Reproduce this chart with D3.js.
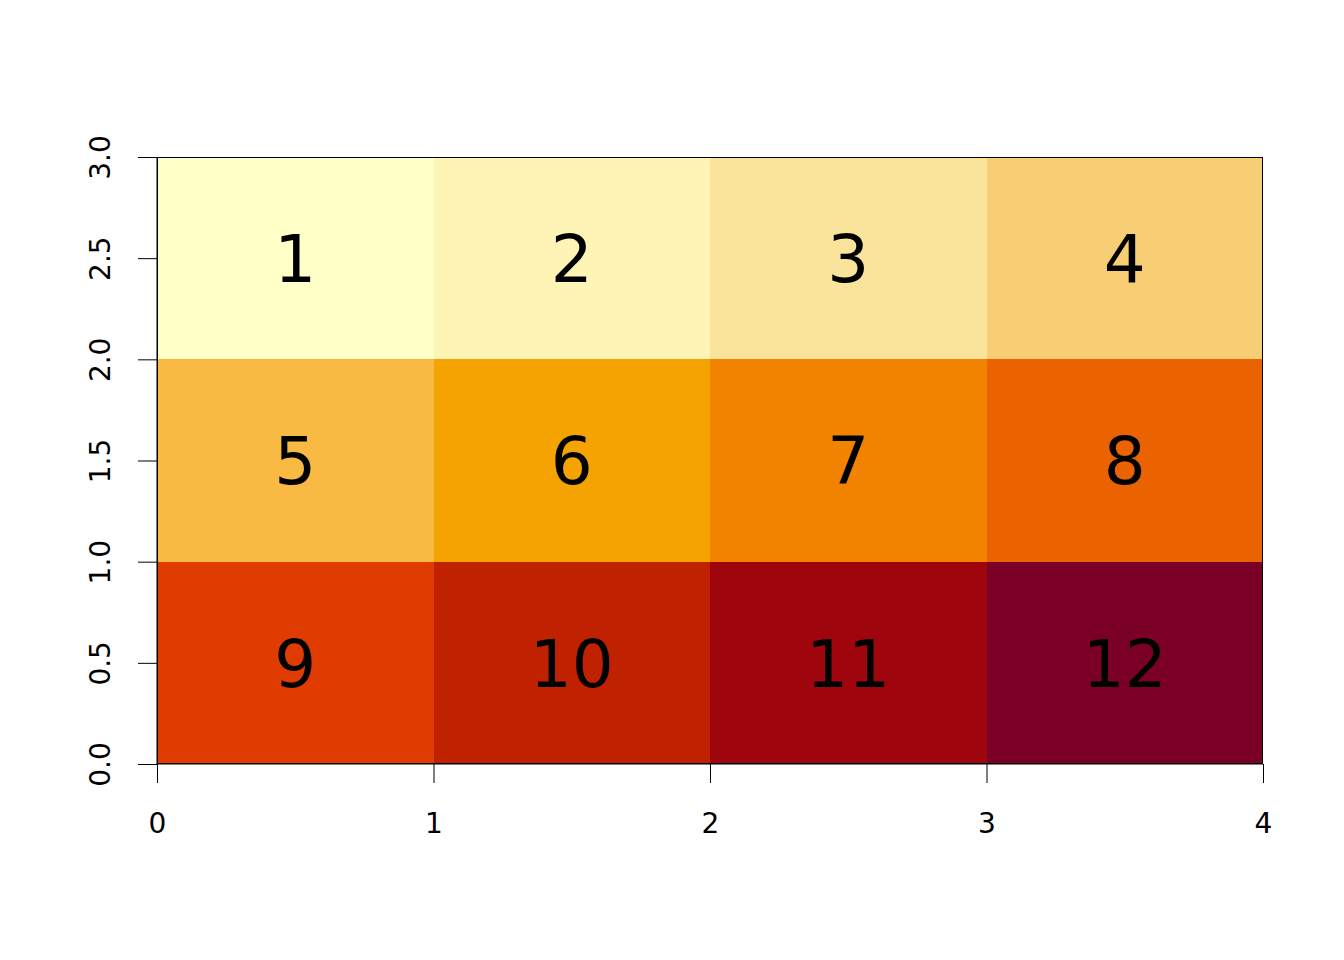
<!DOCTYPE html>
<html><head><meta charset="utf-8">
<script src="https://cdn.jsdelivr.net/npm/d3@7"></script>
<style>html,body{margin:0;padding:0;background:#fff;}svg{display:block;font-family:"DejaVu Sans",sans-serif;}</style>
</head><body>
<svg id="chart" width="1344" height="960"></svg>
<script>
const cols = [0, 1, 2, 3];
const rows = [0, 1, 2]; // bottom row index 0
const values = [
  [9, 10, 11, 12],
  [5, 6, 7, 8],
  [1, 2, 3, 4]
];
const colors = [
  "#FFFFC8", "#FEF4B5", "#FAE39A", "#F7CE73",
  "#F8BA43", "#F5A300", "#F18300", "#EB6200",
  "#E03B00", "#C02200", "#9E050C", "#7A0025"
];
const xTicks = [0, 1, 2, 3, 4];
const yTicks = [0, 0.5, 1, 1.5, 2, 2.5, 3];

const svg = d3.select("#chart");
const L = 157, R = 1263, T = 157, B = 764;
const x = d3.scaleLinear().domain([0, 4]).range([L, R]);
const y = d3.scaleLinear().domain([0, 3]).range([B, T]);

const cells = [];
rows.forEach(r => cols.forEach(c => cells.push({c, r, v: values[r][c]})));

svg.append("g").selectAll("rect").data(cells).join("rect")
  .attr("x", d => x(d.c)).attr("y", d => y(d.r + 1))
  .attr("width", d => x(d.c + 1) - x(d.c)).attr("height", d => y(d.r) - y(d.r + 1))
  .attr("fill", d => colors[d.v - 1]).attr("shape-rendering", "crispEdges");

svg.append("g").selectAll("text").data(cells).join("text")
  .attr("x", d => x(d.c + 0.5)).attr("y", d => y(d.r + 0.5))
  .attr("dy", "0.36em").attr("text-anchor", "middle")
  .attr("font-size", 66).attr("fill", "#000").text(d => d.v);

svg.append("rect").attr("x", L + 0.5).attr("y", T + 0.5)
  .attr("width", R - L - 1).attr("height", B - T - 1)
  .attr("fill", "none").attr("stroke", "#000").attr("stroke-width", 1);

const xa = svg.append("g").attr("transform", `translate(0,${B})`)
  .call(d3.axisBottom(x).tickValues(xTicks).tickSize(19).tickPadding(30).tickFormat(d3.format("d")));
const ya = svg.append("g").attr("transform", `translate(${L},0)`)
  .call(d3.axisLeft(y).tickValues(yTicks).tickSize(19).tickPadding(9).tickFormat(d3.format(".1f")));
[xa, ya].forEach(a => {
  a.select(".domain").attr("stroke", "#000");
  a.selectAll(".tick line").attr("stroke", "#000");
  a.selectAll("text").attr("font-size", 28).attr("font-family", "DejaVu Sans").attr("fill", "#000");
});
xa.select(".domain").attr("d", `M${L},0H${R}`);
ya.select(".domain").attr("d", `M0,${y(0)}V${y(3)}`);
ya.selectAll(".tick text")
  .attr("x", 0).attr("y", 0)
  .attr("text-anchor", "middle")
  .attr("transform", "translate(-57,0) rotate(-90)")
  .attr("dy", "0.36em");
</script>
</body></html>
